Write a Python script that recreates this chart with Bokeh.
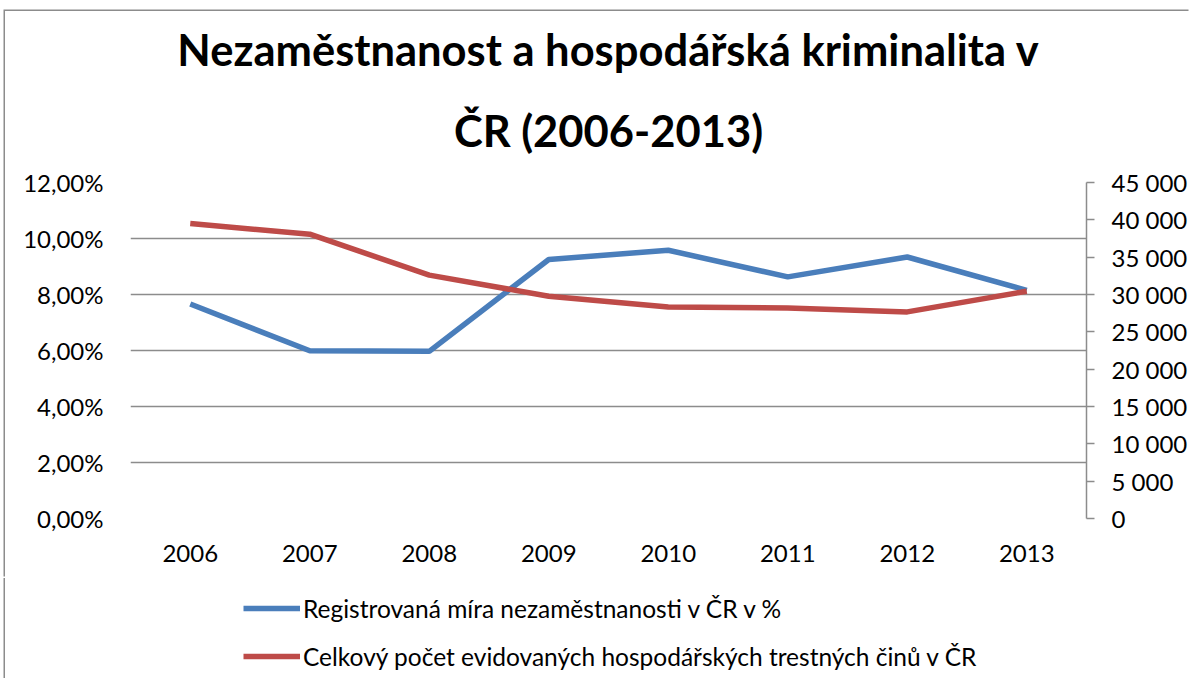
from bokeh.plotting import figure
from bokeh.layouts import column
from bokeh.models import (LinearAxis, Range1d, FixedTicker, Legend, LegendItem, Title,
                          ColumnDataSource)
from bokeh.embed import file_html
from bokeh.resources import INLINE

years = ["2006", "2007", "2008", "2009", "2010", "2011", "2012", "2013"]
unemployment = [7.66, 5.99, 5.97, 9.25, 9.58, 8.63, 9.34, 8.15]
crimes = [39500, 38080, 32590, 29770, 28340, 28200, 27670, 30440]

left_ticks = [0, 2, 4, 6, 8, 10, 12]
left_labels = ["0,00%", "2,00%", "4,00%", "6,00%", "8,00%", "10,00%", "12,00%"]
right_ticks = [0, 5000, 10000, 15000, 20000, 25000, 30000, 35000, 40000, 45000]
right_labels = ["0", "5 000", "10 000", "15 000", "20 000", "25 000", "30 000",
                "35 000", "40 000", "45 000"]

series_names = ["Registrovaná míra nezaměstnanosti v ČR v %",
                "Celkový počet evidovaných hospodářských trestných činů v ČR"]
title_lines = ["Nezaměstnanost a hospodářská kriminalita v", "ČR (2006-2013)"]

FONT = "Lato"
GRID = "#8c8c8c"
BLUE = "#4A7EBB"
RED = "#BE4B48"
TICK_FS = "24px"
W = 1185
BL, BR = 125, 102

source = ColumnDataSource(dict(year=years, u=unemployment, c=crimes))

p = figure(x_range=years, y_range=Range1d(0, 12), width=W, height=567,
           output_backend="svg", toolbar_location=None,
           min_border_left=BL, min_border_right=BR, min_border_top=171,
           min_border_bottom=60)
p.outline_line_color = None
p.background_fill_color = "white"
p.border_fill_color = "white"

p.extra_y_ranges = {"crimes": Range1d(0, 45000)}

# left axis
ya = p.yaxis[0]
ya.ticker = FixedTicker(ticks=left_ticks)
ya.major_label_overrides = {t: l for t, l in zip(left_ticks, left_labels)}
ya.axis_line_color = None
ya.major_tick_line_color = None
ya.minor_tick_line_color = None
ya.major_tick_out = 0
ya.major_tick_in = 0
ya.major_label_standoff = 27
ya.major_label_text_font = FONT
ya.major_label_text_font_size = TICK_FS
ya.major_label_text_color = "black"

# right axis
ra = LinearAxis(y_range_name="crimes", ticker=FixedTicker(ticks=right_ticks))
ra.major_label_overrides = {t: l for t, l in zip(right_ticks, right_labels)}
ra.axis_line_color = GRID
ra.axis_line_width = 1.5
ra.major_tick_line_color = GRID
ra.major_tick_line_width = 1.5
ra.major_tick_out = 8
ra.major_tick_in = 0
ra.minor_tick_line_color = None
ra.major_label_standoff = 17
ra.major_label_text_font = FONT
ra.major_label_text_font_size = TICK_FS
ra.major_label_text_color = "black"
p.add_layout(ra, "right")

# x axis (categories)
xa = p.xaxis[0]
xa.axis_line_color = None
xa.major_tick_line_color = None
xa.major_tick_out = 0
xa.major_tick_in = 0
xa.major_label_standoff = 26
xa.major_label_text_font = FONT
xa.major_label_text_font_size = TICK_FS
xa.major_label_text_color = "black"

p.xgrid.grid_line_color = None
p.ygrid.grid_line_color = GRID
p.ygrid.grid_line_width = 1.5
p.ygrid.ticker = FixedTicker(ticks=left_ticks)

p.line("year", "u", source=source, line_color=BLUE, line_width=5.5)
p.line("year", "c", source=source, line_color=RED, line_width=5.5, y_range_name="crimes")

t2 = Title(text=title_lines[1], align="center", text_font=FONT, text_font_size="43.5px",
           text_font_style="bold", text_color="black", standoff=54)
t1 = Title(text=title_lines[0], align="center", text_font=FONT, text_font_size="43.5px",
           text_font_style="bold", text_color="black", standoff=0, text_line_height=0.85)
p.add_layout(t2, "above")
p.add_layout(t1, "above")
p.styles = {"box-shadow": "-1.5px -1.5px 0 0 #8c8c8c"}

# legend strip below the chart (same frame borders so frames line up);
# the series are drawn again here only as legend proxies, outside the visible range
lg = figure(x_range=years, y_range=Range1d(-2, -1), width=W, height=100,
            output_backend="svg", toolbar_location=None,
            x_axis_type=None, y_axis_type=None,
            min_border_left=BL, min_border_right=BR, min_border_top=0, min_border_bottom=0)
lg.outline_line_color = None
lg.grid.grid_line_color = None
lg.background_fill_color = "white"
lg.border_fill_color = "white"
lg.styles = {"box-shadow": "-1.5px 0 0 0 #8c8c8c"}
l1 = lg.line("year", "u", source=source, line_color=BLUE, line_width=5.5)
l2 = lg.line("year", "c", source=source, line_color=RED, line_width=5.5)

legend = Legend(items=[LegendItem(label=series_names[0], renderers=[l1]),
                       LegendItem(label=series_names[1], renderers=[l2])],
                location=(113, 0), orientation="vertical")
legend.label_text_font = FONT
legend.label_text_font_size = "24.5px"
legend.label_text_color = "black"
legend.label_standoff = 3
legend.glyph_width = 57
legend.glyph_height = 44
legend.label_height = 44
legend.spacing = 4
legend.padding = 0
legend.margin = 0
legend.border_line_color = None
legend.background_fill_alpha = 0
lg.add_layout(legend, "center")

layout = column(p, lg, spacing=0)
layout.styles = {"margin-top": "11px", "margin-left": "5px"}

open("out.html", "w").write(file_html(layout, INLINE))
